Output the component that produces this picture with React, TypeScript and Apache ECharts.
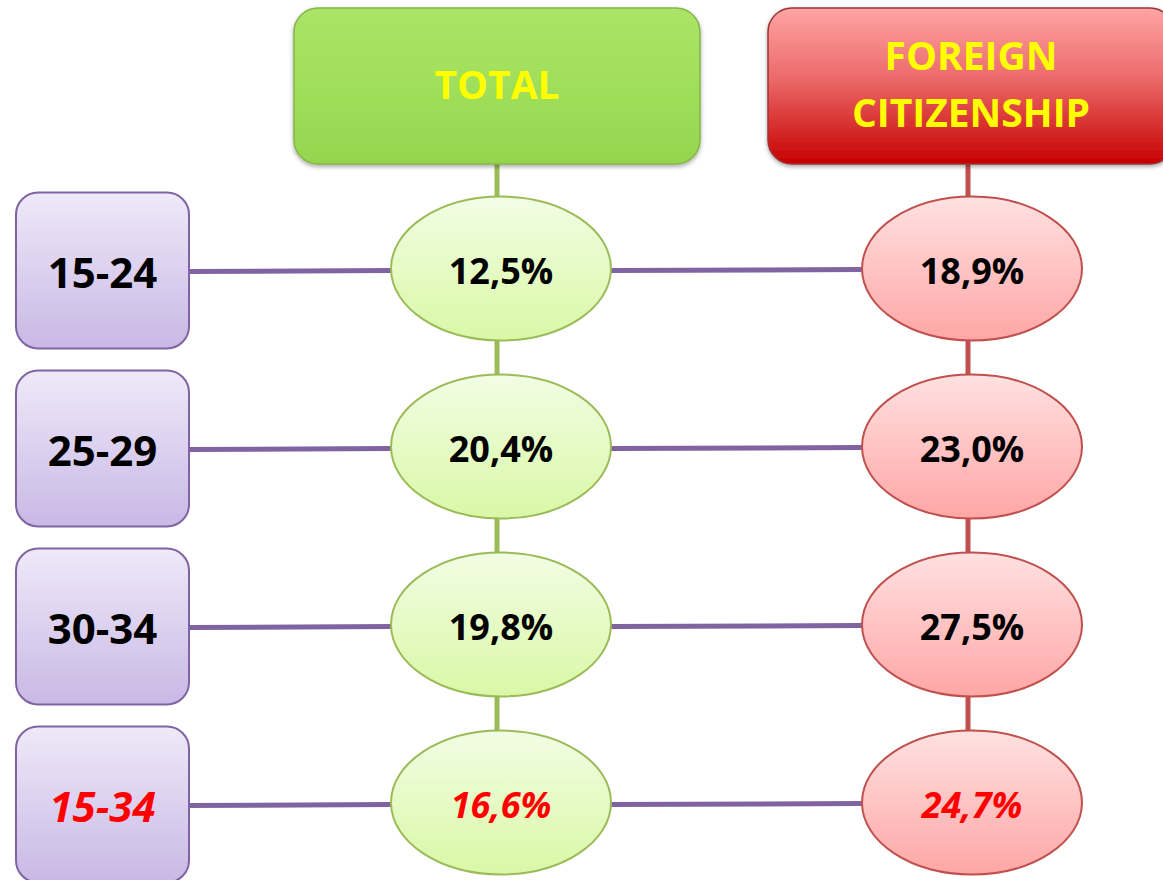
import React, { useEffect, useRef } from "react";
import * as echarts from "echarts";

// ---- data ----
const ageGroups = ["15-24", "25-29", "30-34", "15-34"];
const columnHeaders = ["TOTAL", "FOREIGN\nCITIZENSHIP"];
const totalRates = [12.5, 20.4, 19.8, 16.6];
const foreignRates = [18.9, 23.0, 27.5, 24.7];
const summaryGroup = "15-34";

const fmt = (v: number) => v.toFixed(1).replace(".", ",") + "%";
const FONT = '"Open Sans", "Liberation Sans", sans-serif';

const RX = 110;
const RY = 72;
const HEADER_TOP = 8;
const HEADER_H = 156;
const HEADER_W = 406;

const lg = (stops: [number, string][]) =>
  new echarts.graphic.LinearGradient(
    0,
    0,
    0,
    1,
    stops.map(([offset, color]) => ({ offset, color }))
  );

const palettes = [
  {
    stroke: "#9bbb59",
    fill: () => lg([[0, "#f2fde4"], [1, "#d9f8a6"]]),
  },
  {
    stroke: "#c0504d",
    fill: () => lg([[0, "#ffe1e1"], [1, "#ffa6a6"]]),
  },
];

export default function App() {
  const ref = useRef<HTMLDivElement>(null);

  useEffect(() => {
    if (!ref.current) return;
    const chart = echarts.init(ref.current, undefined, { renderer: "svg" });

    const rowSeries = {
      type: "custom",
      name: "age groups",
      clip: false,
      z: 1,
      data: ageGroups.map((g, i) => [0, i]),
      renderItem: (params: any, api: any) => {
        const i = params.dataIndex;
        const [gx, y] = api.coord([0, i]);
        const [fx] = api.coord([1, i]);
        const isSummary = ageGroups[i] === summaryGroup;
        const boxL = 16;
        const boxW = 173;
        const boxH = 156;
        return {
          type: "group",
          children: [
            {
              type: "line",
              shape: { x1: boxL + boxW, y1: y + 3, x2: gx - RX, y2: y + 2 },
              style: { stroke: "#8064a2", lineWidth: 5 },
            },
            {
              type: "line",
              shape: { x1: gx + RX, y1: y + 2, x2: fx - RX, y2: y + 1 },
              style: { stroke: "#8064a2", lineWidth: 5 },
            },
            {
              type: "rect",
              shape: { x: boxL, y: y - boxH / 2 + 2, width: boxW, height: boxH, r: 22 },
              style: {
                fill: lg([[0, "#efe9f9"], [1, "#c9b8e5"]]),
                stroke: "#8064a2",
                lineWidth: 2,
              },
            },
            {
              type: "text",
              style: {
                text: ageGroups[i],
                x: boxL + boxW / 2,
                y: y + 3,
                align: "center",
                verticalAlign: "middle",
                fontFamily: FONT,
                fontWeight: "bold",
                fontStyle: isSummary ? "italic" : "normal",
                fontSize: 42,
                fill: isSummary ? "#ff0000" : "#000000",
              },
            },
          ],
        };
      },
    };

    const valueSeries = (col: number, values: number[]) => ({
      type: "custom",
      name: columnHeaders[col].replace("\n", " "),
      clip: false,
      z: 2,
      data: values.map((v, i) => [col, i, v]),
      renderItem: (params: any, api: any) => {
        const i = params.dataIndex;
        const [x, y] = api.coord([col, i]);
        const prevBottom =
          i === 0 ? HEADER_TOP + HEADER_H : api.coord([col, i - 1])[1] + RY;
        const isSummary = ageGroups[i] === summaryGroup;
        const pal = palettes[col];
        return {
          type: "group",
          children: [
            {
              type: "line",
              shape: { x1: x - 4, y1: prevBottom, x2: x - 4, y2: y - RY },
              style: { stroke: pal.stroke, lineWidth: 5 },
            },
            {
              type: "ellipse",
              shape: { cx: x, cy: y, rx: RX, ry: RY },
              style: { fill: pal.fill(), stroke: pal.stroke, lineWidth: 2 },
            },
            {
              type: "text",
              style: {
                text: fmt(api.value(2)),
                x: x,
                y: y + 2,
                align: "center",
                verticalAlign: "middle",
                fontFamily: FONT,
                fontWeight: "bold",
                fontStyle: isSummary ? "italic" : "normal",
                fontSize: 36,
                fill: isSummary ? "#ff0000" : "#000000",
              },
            },
          ],
        };
      },
    });

    const headerSeries = {
      type: "custom",
      name: "headers",
      clip: false,
      z: 3,
      data: columnHeaders.map((h, c) => [c, 0]),
      renderItem: (params: any, api: any) => {
        const c = params.dataIndex;
        const [x] = api.coord([c, 0]);
        const cx = x - 4 + c * 3;
        const fill =
          c === 0
            ? lg([[0, "#abe467"], [0.5, "#a0df5a"], [1, "#95d44e"]])
            : lg([[0, "#ffa4a4"], [0.45, "#ec6a6a"], [1, "#c70000"]]);
        return {
          type: "group",
          children: [
            {
              type: "rect",
              shape: {
                x: cx - HEADER_W / 2,
                y: HEADER_TOP,
                width: HEADER_W,
                height: HEADER_H,
                r: 24,
              },
              style: {
                fill,
                stroke: c === 0 ? "#86b548" : "#9a3434",
                lineWidth: 1.5,
                shadowBlur: 4,
                shadowOffsetY: 2,
                shadowColor: "rgba(0,0,0,0.35)",
              },
            },
            {
              type: "text",
              style: {
                text: columnHeaders[c],
                x: cx,
                y: HEADER_TOP + HEADER_H / 2 - 3,
                align: "center",
                verticalAlign: "middle",
                fontFamily: FONT,
                fontWeight: "bold",
                fontSize: 39,
                lineHeight: 57,
                fill: "#ffff00",
              },
            },
          ],
        };
      },
    };

    chart.setOption({
      animation: false,
      grid: { left: 501, width: 471, top: 268.5, height: 534 },
      xAxis: { type: "category", data: columnHeaders, show: false, boundaryGap: false },
      yAxis: {
        type: "category",
        data: ageGroups,
        inverse: true,
        show: false,
        boundaryGap: false,
      },
      series: [
        rowSeries,
        valueSeries(0, totalRates),
        valueSeries(1, foreignRates),
        headerSeries,
      ],
    });

    return () => chart.dispose();
  }, []);

  return (
    <div
      ref={ref}
      style={{
        position: "absolute",
        left: 0,
        top: 0,
        width: 1163,
        height: 880,
        background: "#ffffff",
      }}
    />
  );
}
